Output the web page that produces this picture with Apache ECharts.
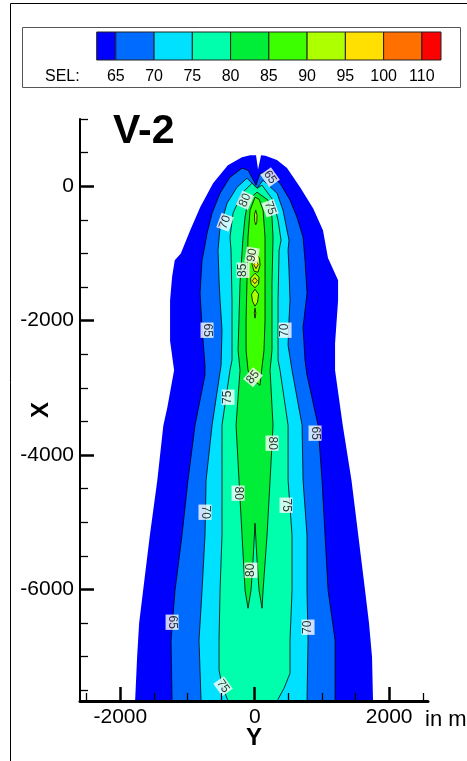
<!DOCTYPE html>
<html>
<head>
<meta charset="utf-8">
<script src="https://cdn.jsdelivr.net/npm/echarts@6.0.0/dist/echarts.min.js"></script>
<style>
  html, body { margin: 0; padding: 0; background: #fff; }
  #chart { width: 467px; height: 761px; }
</style>
</head>
<body>
<div id="chart"></div>
<script>
// SEL footprint, case V-2. Coordinates in metres: Y across track, X along track.
const FONT = '"Liberation Sans", Arial, Helvetica, sans-serif';

// colour bands of the SEL scale (<65, 65-70, ..., 100-110, >110)
const bandColors = ['#0000FF', '#006CFF', '#00E0FF', '#00FFAC', '#00EE38', '#3CFF00', '#AEFF00', '#FFE000', '#FF7000', '#FF0000'];
const legendTicks = ['65', '70', '75', '80', '85', '90', '95', '100', '110'];
const legendBands = [[-0.5, 0], [0, 1], [1, 2], [2, 3], [3, 4], [4, 5], [5, 6], [6, 7], [7, 8], [8, 8.5]];

// axis ticks
const yMajorTicks = [-2000, 0, 2000];
const yMinorTicks = [-2500, -1500, -1000, -500, 500, 1000, 1500, 2500];
const xMajorTicks = [-6000, -4000, -2000, 0];
const xMinorTicks = [1000, 500, -500, -1000, -1500, -2500, -3000, -3500, -4500, -5000, -5500, -6500, -7000, -7500];

// contour outlines, [Y, X] in metres
const edge60 = [
  [-190, 430], [-400, 310], [-620, 45], [-810, -310], [-960, -655], [-1100, -1000], [-1190, -1100],
  [-1230, -1350], [-1260, -1700], [-1260, -2300], [-1200, -2740], [-1300, -3290], [-1360, -3560],
  [-1450, -4380], [-1560, -5190], [-1660, -6010], [-1720, -6500], [-1750, -7000], [-1780, -7660],
  [1760, -7660], [1745, -7000], [1700, -6500], [1640, -6000], [1540, -5190], [1440, -4380],
  [1310, -3560], [1195, -2740], [1195, -2340], [1240, -1700], [1240, -1400], [1090, -1070],
  [1015, -655], [870, -330], [675, -15], [480, 270], [330, 390], [160, 455], [94, 460],
  [49, 250], [19, 460], [-70, 460]
];
const edge65 = [
  [-189, 268], [-100, 238], [19, 15], [79, 193], [168, 193], [257, 134], [376, 45], [525, -208],
  [629, -461], [719, -759], [748, -1101], [778, -1592], [719, -2098], [748, -2589], [778, -2812],
  [942, -3556], [1001, -4375], [1046, -5193], [1091, -6012], [1195, -6756], [1195, -7660],
  [-1230, -7660], [-1245, -6756], [-1186, -6012], [-1082, -5193], [-993, -4375], [-888, -3556],
  [-740, -2812], [-740, -2664], [-784, -2098], [-814, -1592], [-784, -1101], [-754, -952],
  [-709, -699], [-635, -402], [-516, -104], [-368, 134]
];
const edge70 = [
  [-115, 119], [34, -30], [124, 89], [332, -104], [421, -357], [510, -804], [496, -952],
  [510, -1250], [525, -1696], [510, -1994], [496, -2366], [555, -2738], [704, -3556],
  [719, -4375], [778, -5193], [778, -6012], [793, -6756], [778, -7660],
  [-799, -7660], [-829, -6756], [-784, -6012], [-740, -5193], [-724, -4375], [-635, -3556],
  [-501, -2664], [-487, -2143], [-516, -1696], [-531, -1399], [-546, -952], [-516, -610],
  [-412, -253], [-263, -15]
];
const edge75 = [
  [-40, 45], [34, -30], [109, 15], [272, -208], [347, -506], [391, -804], [362, -952],
  [347, -1696], [347, -2589], [376, -2738], [496, -3556], [496, -4375], [555, -5193],
  [555, -6012], [525, -6756], [525, -7247], [436, -7470], [332, -7660],
  [-397, -7660], [-487, -7425], [-531, -7202], [-531, -6756], [-516, -6012], [-487, -5193],
  [-487, -4375], [-487, -3556], [-368, -2738], [-338, -2589], [-338, -1696], [-353, -952],
  [-368, -759], [-323, -402], [-189, -104]
];
const edge80 = [
  [34, -89], [198, -208], [257, -461], [272, -759], [257, -1443], [257, -2440], [228, -2738],
  [272, -3556], [228, -4375], [183, -5193], [124, -6012], [109, -6280], [64, -6012],
  [34, -5565], [4, -5015], [-25, -5565], [-55, -6012], [-100, -6280], [-144, -6012],
  [-189, -5193], [-234, -4375], [-278, -3556], [-219, -2738], [-248, -2440], [-219, -1443],
  [-174, -759], [-144, -461], [-100, -208]
];
const edge85 = [
  [4, -164], [64, -193], [124, -357], [153, -759], [153, -1399], [153, -1994], [138, -2440],
  [94, -2812], [79, -2961], [-25, -2887], [-100, -2738], [-129, -2440], [-129, -1994],
  [-115, -1399], [-100, -759], [-70, -357]
];
const cells90 = [
  [[15, -357], [34, -432], [31, -536], [15, -573], [-1, -521], [-3, -417]],
  [[19, -1012], [71, -1071], [79, -1176], [49, -1280], [-10, -1265], [-40, -1161], [-25, -1056]],
  [[4, -1295], [64, -1354], [57, -1458], [4, -1510], [-55, -1458], [-62, -1369]],
  [[4, -1533], [57, -1607], [42, -1726], [4, -1786], [-33, -1711], [-48, -1607]],
  [[4, -1815], [16, -1890], [4, -1964], [-7, -1890]]
];
const cells95 = [
  [[19, -1112], [52, -1168], [19, -1225], [-14, -1168]],
  [[1, -1362], [39, -1406], [1, -1451], [-36, -1406]]
];

// contour labels: [Y, X, level, text angle]
const contourLabels = [
  [228, 134, 65, -55], [-144, -208, 80, 65], [228, -327, 75, -70], [-442, -536, 70, 70],
  [-40, -1027, 90, 80], [-174, -1250, 85, 90], [-710, -2143, 65, -90], [451, -2143, 70, 90],
  [-25, -2842, 85, 50], [-397, -3140, 75, 90], [897, -3675, 65, -90], [257, -3824, 80, -90],
  [-248, -4568, 80, -90], [466, -4747, 75, -90], [-740, -4851, 70, -90], [-55, -5714, 80, 90],
  [-1230, -6488, 65, -90], [793, -6562, 70, 90], [-472, -7440, 75, -55]
];

const fills = [
  { rings: [edge60], color: bandColors[0], line: false },
  { rings: [edge65], color: bandColors[1], line: true },
  { rings: [edge70], color: bandColors[2], line: true },
  { rings: [edge75], color: bandColors[3], line: true },
  { rings: [edge80], color: bandColors[4], line: true },
  { rings: [edge85], color: bandColors[5], line: true },
  { rings: cells90, color: bandColors[6], line: true },
  { rings: cells95, color: bandColors[7], line: true }
];

const contourSeries = fills.map(function (f, k) {
  return {
    type: 'custom',
    xAxisIndex: 0,
    yAxisIndex: 0,
    clip: true,
    silent: true,
    z: 2 + k * 0.01,
    data: f.rings.map(function (r, i) { return [r[0][0], r[0][1], i]; }),
    renderItem: function (params, api) {
      const ring = f.rings[api.value(2)];
      const pts = ring.map(function (p) { return api.coord(p); });
      return {
        type: 'polygon',
        shape: { points: pts },
        style: {
          fill: f.color,
          stroke: f.line ? '#000' : null,
          lineWidth: f.line ? 0.8 : 0
        }
      };
    }
  };
});

const labelSeries = {
  type: 'scatter',
  xAxisIndex: 0,
  yAxisIndex: 0,
  symbolSize: 1,
  silent: true,
  z: 4,
  itemStyle: { color: 'rgba(0,0,0,0)' },
  label: {
    show: true,
    position: 'inside',
    fontSize: 12,
    fontFamily: FONT,
    color: '#000',
    backgroundColor: '#fff',
    padding: [1, 1, 0, 1]
  },
  labelLayout: { hideOverlap: false },
  data: contourLabels.map(function (c) {
    return { value: [c[0], c[1]], label: { formatter: String(c[2]), rotate: c[3] } };
  })
};

const legendSeries = {
  type: 'custom',
  xAxisIndex: 2,
  yAxisIndex: 2,
  silent: true,
  data: legendBands.map(function (b, i) { return [b[0], b[1], i]; }),
  renderItem: function (params, api) {
    const p0 = api.coord([api.value(0), 1]);
    const p1 = api.coord([api.value(1), 0]);
    return {
      type: 'rect',
      shape: { x: p0[0], y: p0[1], width: p1[0] - p0[0], height: p1[1] - p0[1] },
      style: { fill: bandColors[api.value(2)], stroke: '#222', lineWidth: 1 }
    };
  }
};

const tickText = { fontSize: 21, color: '#000', fontFamily: FONT, formatter: function (v) { return String(v); } };
const nameText = { fontSize: 24, fontWeight: 'bold', color: '#000', fontFamily: FONT };

const option = {
  animation: false,
  backgroundColor: '#fff',
  grid: [
    { left: 80, top: 119, width: 348, height: 582, outerBoundsMode: 'none', containLabel: false },
    { left: 96.7, top: 32, width: 344.3, height: 28, outerBoundsMode: 'none', containLabel: false }
  ],
  xAxis: [
    {
      gridIndex: 0, type: 'value', min: -2600, max: 2578, position: 'bottom', z: 5,
      axisLine: { show: true, onZero: false, lineStyle: { color: '#000', width: 3 } },
      axisTick: { show: true, inside: true, length: 14, customValues: yMajorTicks, lineStyle: { color: '#000', width: 2.5 } },
      axisLabel: Object.assign({ show: true, customValues: yMajorTicks, margin: 6 }, tickText),
      splitLine: { show: false },
      name: 'Y', nameLocation: 'middle', nameGap: 25, nameMoveOverlap: false, nameTextStyle: nameText
    },
    {
      gridIndex: 0, type: 'value', min: -2600, max: 2578, position: 'bottom', z: 5,
      axisLine: { show: false, onZero: false },
      axisTick: { show: true, inside: true, length: 8, customValues: yMinorTicks, lineStyle: { color: '#000', width: 1.3 } },
      axisLabel: { show: false },
      splitLine: { show: false }
    },
    {
      gridIndex: 1, type: 'value', min: -0.5, max: 8.5,
      axisLine: { show: false }, axisTick: { show: false }, splitLine: { show: false },
      axisLabel: {
        show: true, customValues: [0, 1, 2, 3, 4, 5, 6, 7, 8], margin: 9,
        fontSize: 16, color: '#000', fontFamily: FONT,
        formatter: function (v) { return legendTicks[Math.round(v)]; }
      }
    }
  ],
  yAxis: [
    {
      gridIndex: 0, type: 'value', min: -7660, max: 1000, position: 'left', z: 5,
      axisLine: { show: true, onZero: false, lineStyle: { color: '#000', width: 2 } },
      axisTick: { show: true, inside: true, length: 14, customValues: xMajorTicks, lineStyle: { color: '#000', width: 2.5 } },
      axisLabel: Object.assign({ show: true, customValues: xMajorTicks, margin: 6 }, tickText),
      splitLine: { show: false },
      name: 'X', nameLocation: 'middle', nameRotate: 90, nameGap: 27, nameMoveOverlap: false, nameTextStyle: nameText
    },
    {
      gridIndex: 0, type: 'value', min: -7660, max: 1000, position: 'left', z: 5,
      axisLine: { show: false, onZero: false },
      axisTick: { show: true, inside: true, length: 8, customValues: xMinorTicks, lineStyle: { color: '#000', width: 1.3 } },
      axisLabel: { show: false },
      splitLine: { show: false }
    },
    { gridIndex: 1, type: 'value', min: 0, max: 1, show: false }
  ],
  graphic: [
    { type: 'rect', silent: true, z: 0, shape: { x: 10.5, y: 3.5, width: 480, height: 800 }, style: { fill: 'none', stroke: '#000', lineWidth: 1 } },
    { type: 'rect', silent: true, z: 0, shape: { x: 22.5, y: 27.5, width: 438, height: 60 }, style: { fill: 'none', stroke: '#555', lineWidth: 1 } },
    { type: 'text', silent: true, style: { text: 'SEL:', x: 45, y: 77, font: '16px ' + FONT, fill: '#000', verticalAlign: 'middle' } },
    { type: 'text', silent: true, style: { text: 'V-2', x: 113, y: 132, font: 'bold 41px ' + FONT, fill: '#000', verticalAlign: 'middle' } },
    { type: 'text', silent: true, style: { text: 'in m', x: 425, y: 720, font: '22px ' + FONT, fill: '#000', verticalAlign: 'middle' } }
  ],
  series: contourSeries.concat([labelSeries, legendSeries])
};

const chart = echarts.init(document.getElementById('chart'), null, { renderer: 'canvas' });
chart.setOption(option);
</script>
</body>
</html>
